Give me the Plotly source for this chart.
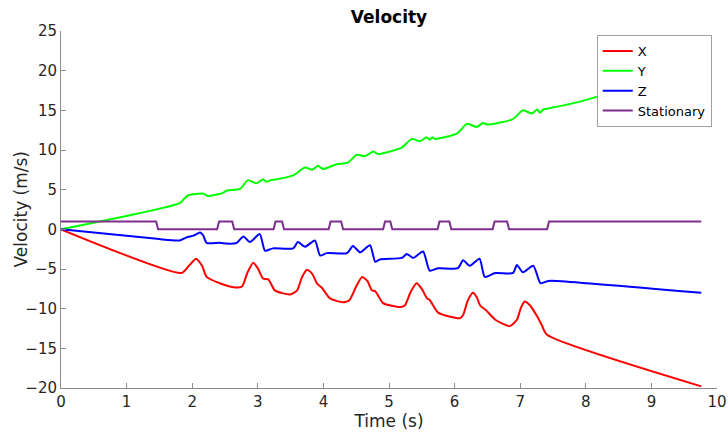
import plotly.graph_objects as go

# Velocity components (m/s) against time (s)
t_x = [0, 1.84, 1.95, 2.06, 2.15, 2.22, 2.42, 2.63, 2.76, 2.84, 2.93, 3.0, 3.08, 3.16, 3.26, 3.49, 3.6, 3.67,
       3.75, 3.83, 3.9, 3.98, 4.1, 4.3, 4.4, 4.5, 4.59, 4.67, 4.74, 4.79, 4.91, 5.17, 5.24, 5.33, 5.42, 5.5,
       5.58, 5.62, 5.75, 6.08, 6.13, 6.2, 6.28, 6.34, 6.39, 6.48, 6.62, 6.84, 6.95, 7.01, 7.07, 7.15, 7.26,
       7.33, 7.41, 9.76]
v_x = [0, -5.5, -4.6, -3.7, -4.6, -6.0, -6.8, -7.3, -7.2, -5.5, -4.2, -4.9, -6.2, -6.3, -7.7, -8.2, -7.7, -6.1,
       -5.1, -5.6, -6.8, -7.4, -8.7, -9.2, -8.9, -7.2, -6.0, -6.5, -7.7, -7.8, -9.3, -9.8, -9.6, -7.9, -6.8, -7.5,
       -8.7, -8.9, -10.5, -11.2, -10.8, -9.0, -8.0, -8.6, -9.6, -10.2, -11.4, -12.2, -11.4, -9.9, -9.1, -9.6, -11.0,
       -12.1, -13.3, -19.8]

t_y = [0, 1.81, 1.87, 1.94, 2.17, 2.24, 2.47, 2.53, 2.73, 2.85, 2.98, 3.08, 3.13, 3.2, 3.29, 3.54, 3.72, 3.83,
       3.92, 3.99, 4.2, 4.37, 4.51, 4.63, 4.76, 4.83, 5.17, 5.21, 5.35, 5.47, 5.57, 5.62, 5.66, 5.7, 6.04, 6.19,
       6.34, 6.43, 6.51, 6.89, 7.04, 7.18, 7.26, 7.3, 7.35, 7.41, 7.91, 8.49, 9.76]
v_y = [0, 3.3, 3.8, 4.3, 4.5, 4.2, 4.6, 4.9, 5.1, 6.2, 5.8, 6.3, 6.0, 6.2, 6.3, 6.8, 7.8, 7.5,
       8.0, 7.6, 8.2, 8.4, 9.4, 9.2, 9.8, 9.5, 10.2, 10.4, 11.4, 11.1, 11.6, 11.3, 11.6, 11.4, 12.1, 13.3,
       12.9, 13.4, 13.2, 13.9, 15.0, 14.6, 15.1, 14.7, 15.1, 15.2, 16.1, 17.5, 20.2]

t_z = [0, 1.46, 1.81, 1.92, 2.02, 2.12, 2.17, 2.22, 2.42, 2.53, 2.68, 2.78, 2.88, 3.03, 3.11, 3.23, 3.54, 3.61,
       3.72, 3.87, 3.95, 4.05, 4.36, 4.45, 4.56, 4.71, 4.79, 4.86, 5.2, 5.27, 5.37, 5.52, 5.62, 5.75, 6.05,
       6.13, 6.23, 6.38, 6.46, 6.62, 6.89, 6.95, 7.04, 7.2, 7.31, 7.43, 7.56, 9.76]
v_z = [0, -1.2, -1.4, -1.0, -0.8, -0.4, -0.8, -1.7, -1.7, -1.8, -1.7, -0.9, -1.6, -0.6, -2.7, -2.4, -2.4, -1.6,
       -2.2, -1.4, -3.3, -3.0, -3.0, -2.1, -2.9, -2.0, -4.1, -3.8, -3.6, -3.1, -3.6, -2.8, -5.2, -4.9, -4.9,
       -3.9, -4.6, -3.7, -6.0, -5.5, -5.5, -4.5, -5.4, -4.6, -6.8, -6.5, -6.5, -8.0]

# Stationary flag (1 = stationary, 0 = moving)
t_s = [0, 1.45, 1.48, 2.38, 2.41, 2.61, 2.64, 3.24, 3.27, 3.37, 3.4, 4.08, 4.11, 4.27, 4.3, 4.91, 4.94, 5.02,
       5.05, 5.74, 5.77, 5.92, 5.95, 6.58, 6.61, 6.8, 6.83, 7.41, 7.44, 9.76]
v_s = [1, 1, 0, 0, 1, 1, 0, 0, 1, 1, 0, 0, 1, 1, 0, 0, 1, 1,
       0, 0, 1, 1, 0, 0, 1, 1, 0, 0, 1, 1]

x_ticks = list(range(0, 11))
y_ticks = list(range(-20, 30, 5))

font_family = "DejaVu Sans"
text_color = "#262626"
axis_color = "#8c8c8c"

fig = go.Figure()
fig.add_trace(go.Scatter(x=t_x, y=v_x, name="X", mode="lines",
                         line=dict(color="#ff0000", width=2, shape="spline", smoothing=0.6)))
fig.add_trace(go.Scatter(x=t_y, y=v_y, name="Y", mode="lines",
                         line=dict(color="#00ff00", width=2, shape="spline", smoothing=0.6)))
fig.add_trace(go.Scatter(x=t_z, y=v_z, name="Z", mode="lines",
                         line=dict(color="#0000ff", width=2, shape="spline", smoothing=0.6)))
fig.add_trace(go.Scatter(x=t_s, y=v_s, name="Stationary", mode="lines",
                         line=dict(color="#7e2f8e", width=2)))

axis_common = dict(
    showgrid=False, zeroline=False, showline=True, linecolor=axis_color, linewidth=1,
    ticks="inside", ticklen=5, tickcolor=axis_color, mirror=False, automargin=False,
    tickfont=dict(family=font_family, size=15, color=text_color),
)

fig.update_layout(
    width=728, height=432,
    margin=dict(l=61, r=11, t=31, b=44),
    paper_bgcolor="white", plot_bgcolor="white",
    title=dict(text="<b>Velocity</b>", x=(61 + 717) / 2 / 728, xanchor="center",
               y=1 - 17 / 432, yanchor="middle",
               font=dict(family=font_family, size=17, color="black")),
    xaxis=dict(range=[0, 10], tickvals=x_ticks,
               title=dict(text="Time (s)", standoff=2,
                          font=dict(family=font_family, size=17, color=text_color)),
               **axis_common),
    yaxis=dict(range=[-20, 25], tickvals=y_ticks, **axis_common),
    legend=dict(x=0.992, y=0.989, xanchor="right", yanchor="top",
                bgcolor="white", bordercolor="#a0a0a0", borderwidth=1,
                font=dict(family=font_family, size=13, color="black"),
                itemwidth=30, tracegroupgap=0),
    showlegend=True,
)

# Vertical axis label, set just left of the tick labels
fig.add_annotation(text="Velocity (m/s)", textangle=-90, showarrow=False,
                   xref="paper", yref="paper", x=-41 / 656, y=0.5,
                   xanchor="center", yanchor="middle",
                   font=dict(family=font_family, size=17, color=text_color))

fig.write_html("out.html")
